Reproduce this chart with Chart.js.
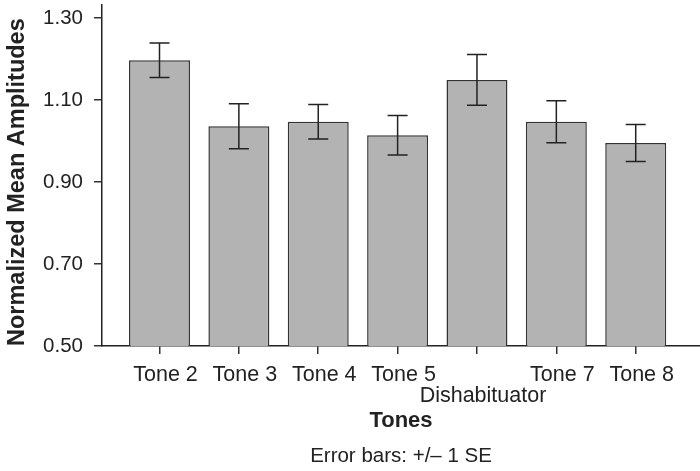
<!DOCTYPE html>
<html>
<head>
<meta charset="utf-8">
<script src="https://cdn.jsdelivr.net/npm/chart.js@4"></script>
<style>
  body { margin: 0; background: #fff; }
  #wrap { width: 700px; height: 471px; }
</style>
</head>
<body>
<div id="wrap"><canvas id="toneChart"></canvas></div>
<script>
// values
const categories = ['Tone 2', 'Tone 3', 'Tone 4', 'Tone 5', ['', 'Dishabituator'], 'Tone 7', 'Tone 8'];
const meanAmps = [1.197, 1.036, 1.047, 1.014, 1.149, 1.047, 0.995];
const stdErr = [0.042, 0.055, 0.042, 0.048, 0.062, 0.051, 0.045];
const yTicks = [0.50, 0.70, 0.90, 1.10, 1.30];

const ink = '#222';
const fontName = '"Liberation Sans", Arial, Helvetica, sans-serif';

// draws the +/- 1 SE whiskers on top of each bar
const errorBars = {
    id: 'errorBars',
    afterDatasetsDraw(chart) {
        const ctx = chart.ctx;
        const yScale = chart.scales.y;
        const meta = chart.getDatasetMeta(0);
        ctx.save();
        ctx.strokeStyle = ink;
        ctx.lineWidth = 1.5;
        meta.data.forEach((bar, i) => {
            const hi = yScale.getPixelForValue(meanAmps[i] + stdErr[i]);
            const lo = yScale.getPixelForValue(meanAmps[i] - stdErr[i]);
            const x = bar.x;
            ctx.beginPath();
            ctx.moveTo(x, hi); ctx.lineTo(x, lo);
            ctx.moveTo(x - 10, hi); ctx.lineTo(x + 10, hi);
            ctx.moveTo(x - 10, lo); ctx.lineTo(x + 10, lo);
            ctx.stroke();
        });
        ctx.restore();
    }
};

const ctx = document.getElementById('toneChart').getContext('2d');
const chart = new Chart(ctx, {
    type: 'bar',
    data: {
        datasets: [{
            data: meanAmps.map((v, i) => ({ x: i, y: v })),
            backgroundColor: '#b2b3b2',
            borderColor: '#333',
            borderWidth: 1.5,
            borderSkipped: false,
            barPercentage: 0.768,
            categoryPercentage: 1
        }]
    },
    options: {
        responsive: true,
        maintainAspectRatio: false,
        animation: false,
        layout: { padding: { top: 5, left: 0, right: 0, bottom: 0 } },
        plugins: {
            legend: { display: false },
            tooltip: { enabled: false },
            title: {
                display: true,
                text: 'Error bars: +/\u2013 1 SE',
                position: 'bottom',
                fullSize: false,
                color: ink,
                font: { family: fontName, size: 20.5, weight: 'normal' },
                padding: { top: 0, bottom: 2 }
            }
        },
        scales: {
            x: {
                type: 'linear',
                offset: false,
                min: -0.7245,
                max: 6.81,
                afterBuildTicks: (scale) => {
                    scale.ticks = categories.map((c, i) => ({ value: i }));
                },
                afterFit: (scale) => {
                    scale.height = 98.4;
                    scale.paddingLeft = 0;
                    scale.paddingRight = 0;
                },
                ticks: {
                    autoSkip: false,
                    maxRotation: 0,
                    padding: 10,
                    labelOffset: 6,
                    color: ink,
                    font: { family: fontName, size: 21.5, lineHeight: 1.01 },
                    callback: (value) => categories[value]
                },
                grid: {
                    offset: false,
                    drawOnChartArea: false,
                    drawTicks: true,
                    tickLength: 8,
                    color: '#333',
                    lineWidth: 1.5
                },
                border: { display: true, color: ink, width: 1.5 },
                title: {
                    display: true,
                    text: 'Tones',
                    color: ink,
                    font: { family: fontName, size: 22, weight: 'bold' },
                    padding: { top: 0, bottom: 10.7 }
                }
            },
            y: {
                min: 0.5,
                max: 1.3317,
                afterBuildTicks: (scale) => {
                    scale.ticks = yTicks.map(v => ({ value: v }));
                },
                afterFit: (scale) => {
                    scale.width = 102;
                    scale.paddingTop = 0;
                    scale.paddingBottom = 0;
                },
                ticks: {
                    padding: 11,
                    color: ink,
                    font: { family: fontName, size: 20.5 },
                    callback: (value) => value.toFixed(2)
                },
                grid: {
                    drawOnChartArea: false,
                    drawTicks: true,
                    tickLength: 8,
                    color: '#333',
                    lineWidth: 1.5
                },
                border: { display: true, color: ink, width: 1.5 },
                title: {
                    display: true,
                    text: 'Normalized Mean Amplitudes',
                    align: 'start',
                    color: ink,
                    font: { family: fontName, size: 23.5, weight: 'bold' },
                    padding: { top: 3, bottom: 0 }
                }
            }
        }
    },
    plugins: [errorBars]
});
</script>
</body>
</html>
